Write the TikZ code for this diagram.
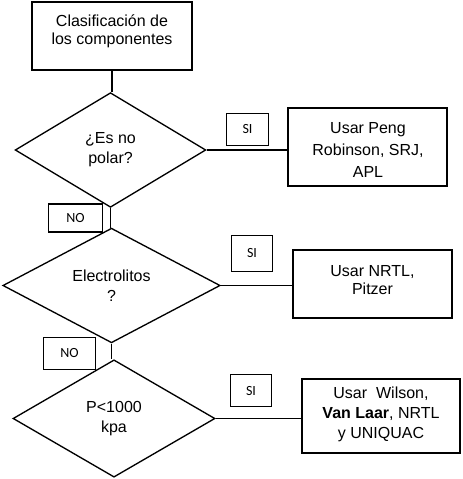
\documentclass[tikz,border=0pt]{standalone}
\usepackage{fontspec}
\setmainfont{Liberation Sans}
\newfontfamily\lblfont{Carlito}
\usetikzlibrary{shapes.geometric}
\begin{document}
\begin{tikzpicture}[x=0.75pt,y=-0.75pt,
  every node/.style={align=center},
  txt/.style={font=\fontsize{12}{13.5}\selectfont, inner sep=0pt},
  procbox/.style={draw, line width=1.3pt, inner sep=0pt},
  decision/.style={draw, diamond, line width=1pt, inner sep=0pt, font=\fontsize{12}{15}\selectfont},
  tagbox/.style={draw, line width=0.9pt, inner sep=0pt, font=\lblfont\fontsize{10.5}{11}\selectfont},
  link/.style={line width=1pt}]
\useasboundingbox (0,0) rectangle (462,479);
% boxes
\node[procbox, minimum width=120pt, minimum height=51pt] (b1) at (112,36) {};
\node[txt] (t1) at (112,31) {Clasificación de\\los componentes};
\node[procbox, minimum width=119pt, minimum height=58.5pt] (b2) at (367.5,147) {};
\node[txt, font=\fontsize{12}{16.5}\selectfont] (t2) at (368,150) {Usar Peng\\Robinson, SRJ,\\APL};
\node[procbox, minimum width=119pt, minimum height=51pt] (b3) at (372.5,284) {};
\node[txt] (t3) at (372.5,280) {Usar NRTL,\\Pitzer};
\node[procbox, minimum width=118.5pt, minimum height=55.5pt] (b4) at (381,416) {};
\node[txt, font=\fontsize{12}{15}\selectfont] (t4) at (381,414) {Usar\ \ Wilson,\\\textbf{Van Laar}, NRTL\\y UNIQUAC};
% decisions
\node[decision, minimum width=143pt, minimum height=86pt] (d1) at (110.5,150) {¿Es no\\polar?};
\node[decision, minimum width=163pt, minimum height=86pt] (d2) at (111.5,285.5) {Electrolitos\\?};
\node[decision, minimum width=151.5pt, minimum height=88pt] (d3) at (114,418.5) {P<1000\\kpa};
% tags
\node[tagbox, minimum width=31pt, minimum height=24pt] (s1) at (247.5,129.5) {SI};
\node[tagbox, minimum width=40pt, minimum height=21pt] (n1) at (75.5,218) {NO};
\node[tagbox, minimum width=31pt, minimum height=27pt] (s2) at (252,253.5) {SI};
\node[tagbox, minimum width=39.5pt, minimum height=24.5pt] (n2) at (69.5,353.5) {NO};
\node[tagbox, minimum width=31pt, minimum height=24.5pt] (s3) at (251,390.5) {SI};
% connectors
\draw[link] (b1.south) -- (b1.south |- d1.north);
\draw[link] (d1.south) -- (d1.south |- d2.north);
\draw[link] (d2.south) -- (d2.south |- d3.north);
\draw[link] (d1.east) -- (d1.east -| b2.west);
\draw[link] (d2.east) -- (d2.east -| b3.west);
\draw[link] (d3.east) -- (d3.east -| b4.west);
\end{tikzpicture}
\end{document}
